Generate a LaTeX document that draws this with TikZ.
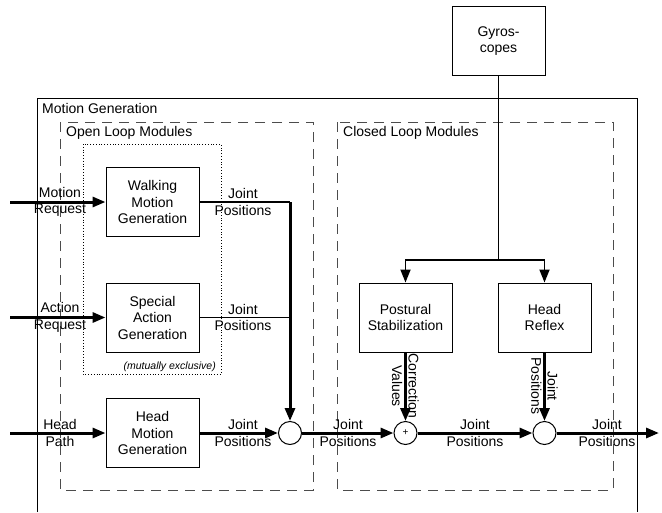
\documentclass[tikz,border=0pt]{standalone}
\usepackage{fontspec}
\setmainfont{Liberation Sans}
\usetikzlibrary{arrows.meta, positioning}

\tikzset{
	block/.style={draw, line width=1pt, minimum width=93pt, minimum height=69pt, align=center, font=\fontsize{14}{16.5}\selectfont},
	junction/.style={draw, circle, line width=1pt, minimum size=23pt, inner sep=0pt, fill=white},
	lbl/.style={align=center, inner sep=0pt, font=\fontsize{14}{16.5}\selectfont},
	flow/.style={line width=3pt, -{Triangle[length=13pt,width=10pt]}},
	feed/.style={line width=1.8pt},
	group/.style={draw=gray!60!black, line width=1pt, dash pattern=on 10pt off 7pt}
}

\begin{document}
\begin{tikzpicture}[x=1pt, y=-1pt]
	\useasboundingbox (0,0) rectangle (662,512);

	% Rahmen
	\draw[line width=1pt] (37,512) -- (37,98) -- (637,98) -- (637,512);
	\node[lbl, anchor=west] (mgen) at (42,108) {Motion Generation};
	\draw[group] (60,122) rectangle (313,490);
	\node[lbl, anchor=west] (openlbl) at (66,133) {Open Loop Modules};
	\draw[group] (337,122) rectangle (613,490);
	\node[lbl, anchor=west] (closedlbl) at (343,133) {Closed Loop Modules};
	\draw[dotted, line width=0.8pt] (83,144) rectangle (221,374);
	\node[lbl, anchor=east, font=\fontsize{10.5}{12}\itshape] (mutex) at (216,367) {(mutually exclusive)};

	% Bloecke
	\node[block] (gyro) at (498.5,41) {Gyros-\\copes};
	\node[block] (walk) at (152.5,202) {Walking\\Motion\\Generation};
	\node[block] (special) at (152.5,317.5) {Special\\Action\\Generation};
	\node[block] (headmot) at (152.5,433) {Head\\Motion\\Generation};
	\node[block] (postural) at (405.5,317.5) {Postural\\Stabilization};
	\node[block] (reflex) at (544.5,317.5) {Head\\Reflex};

	\node[junction] (mergeA) at (290,433) {};
	\node[junction, font=\fontsize{10}{10}\selectfont] (plus) at (405.5,433) {+};
	\node[junction] (mergeB) at (544.5,433) {};

	\coordinate (inMotion) at (10,202);
	\coordinate (inAction) at (10,317.5);
	\coordinate (inHead) at (10,433);
	\coordinate (corner) at (290,202);
	\coordinate (tapSpecial) at (290,317.5);
	\coordinate (branch) at (498.5,260);
	\coordinate (outEnd) at (659,433);

	% Verbindungen
	\draw[flow] (inMotion) -- (walk);
	\draw[flow] (inAction) -- (special);
	\draw[flow] (inHead) -- (headmot);
	\draw[feed] (walk) -- (corner);
	\draw[feed] (special) -- (tapSpecial);
	\draw[flow] (corner) -- (mergeA);
	\draw[flow] (headmot) -- (mergeA);
	\draw[flow] (mergeA) -- (plus);
	\draw[flow] (plus) -- (mergeB);
	\draw[flow] (mergeB) -- (outEnd);
	\draw[flow] (postural) -- (plus);
	\draw[flow] (reflex) -- (mergeB);
	\draw[feed] (gyro) -- (branch);
	\draw[feed, -{Triangle[length=13pt,width=10pt]}] (branch) -| (postural);
	\draw[feed, -{Triangle[length=13pt,width=10pt]}] (branch) -| (reflex);

	% Beschriftungen
	\node[lbl] (lMotion) at (60,202) {Motion\\Request};
	\node[lbl] (lAction) at (60,317.5) {Action\\Request};
	\node[lbl] (lHead) at (60,433) {Head\\Path};
	\node[lbl] (jWalk) at (243,202) {Joint\\Positions};
	\node[lbl] (jSpecial) at (243,317.5) {Joint\\Positions};
	\node[lbl] (jHead) at (243,433) {Joint\\Positions};
	\node[lbl] (jMerge) at (348,433) {Joint\\Positions};
	\node[lbl] (jPlus) at (475,433) {Joint\\Positions};
	\node[lbl] (jOut) at (607,433) {Joint\\Positions};
	\node[lbl, rotate=-90] (lCorr) at (405.5,386) {Correction\\Values};
	\node[lbl, rotate=-90] (lReflex) at (544.5,386) {Joint\\Positions};
\end{tikzpicture}
\end{document}
